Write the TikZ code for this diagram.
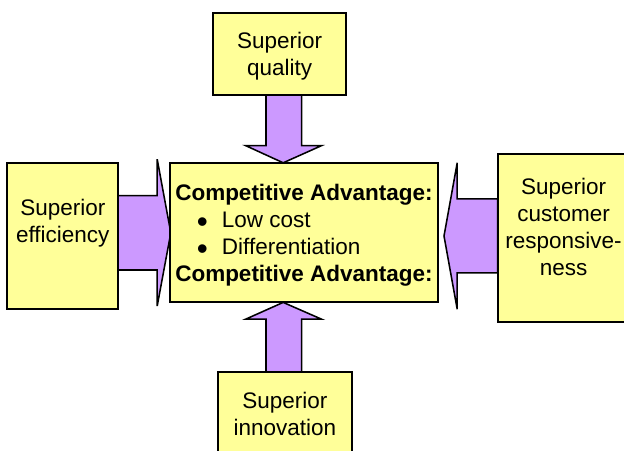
\documentclass[tikz,border=0pt]{standalone}
\usepackage{fontspec}
\setmainfont{Liberation Sans}
\usepackage{tikz}
\definecolor{boxyellow}{HTML}{FFFF99}
\definecolor{arrowlilac}{HTML}{CC99FF}
\newcommand{\bigbullet}{\hspace*{19.2pt}\makebox[0pt]{\raisebox{-3.9pt}{\scalebox{1.4}{\textbullet}}}\hspace{14pt}}

\begin{document}
\begin{tikzpicture}[
	box/.style={draw=black, fill=boxyellow, line width=1.4pt, inner sep=0pt},
	blockarrow/.style={draw=black, fill=arrowlilac, line width=1.1pt, line join=miter},
	caption/.style={black, align=center, inner sep=0pt, font=\fontsize{16}{19.2}\selectfont}]
		\useasboundingbox (0,0) rectangle (15.60,11.25);
		\clip (0,0) rectangle (15.60,11.25);
		% block arrows
		\draw[blockarrow] (6.65,8.88) -- (6.65,7.61) -- (6.14,7.61) -- (7.08,7.18) -- (8.04,7.61) -- (7.54,7.61) -- (7.54,8.88) -- cycle;
		\draw[blockarrow] (6.65,1.94) -- (6.65,3.27) -- (6.14,3.27) -- (7.08,3.69) -- (8.04,3.27) -- (7.54,3.27) -- (7.54,1.94) -- cycle;
		\draw[blockarrow] (2.95,6.36) -- (3.93,6.36) -- (3.93,7.27) -- (4.27,5.43) -- (3.93,3.60) -- (3.93,4.50) -- (2.95,4.50) -- cycle;
		\draw[blockarrow] (12.44,6.28) -- (11.43,6.28) -- (11.43,7.18) -- (11.10,5.35) -- (11.43,3.52) -- (11.43,4.43) -- (12.44,4.43) -- cycle;
		% boxes
		\node[box, minimum width=3.31cm, minimum height=2.04cm] (quality) at (6.99,9.90) {};
		\node[box, minimum width=6.70cm, minimum height=3.49cm] (advantage) at (7.61,5.435) {};
		\node[box, minimum width=2.77cm, minimum height=3.66cm] (efficiency) at (1.565,5.35) {};
		\node[box, minimum width=3.31cm, minimum height=4.19cm] (response) at (14.095,5.305) {};
		\node[box, minimum width=3.33cm, minimum height=2.19cm] (innovation) at (7.125,0.845) {};
		% texts
		\node[caption] (qualityText) at (6.99,9.84) {Superior\\quality};
		\node[caption] (efficiencyText) at (1.57,5.66) {Superior\\efficiency};
		\node[caption] (responseText) at (14.09,5.58) {Superior\\customer\\responsive-\\ness};
		\node[caption] (innovationText) at (7.12,0.90) {Superior\\innovation};
		\node[caption, align=left] (advantageText) at (7.60,5.375) {\textbf{Competitive Advantage:}\\
			\bigbullet Low cost\\
			\bigbullet Differentiation\\
			\textbf{Competitive Advantage:}};
	\end{tikzpicture}
\end{document}
